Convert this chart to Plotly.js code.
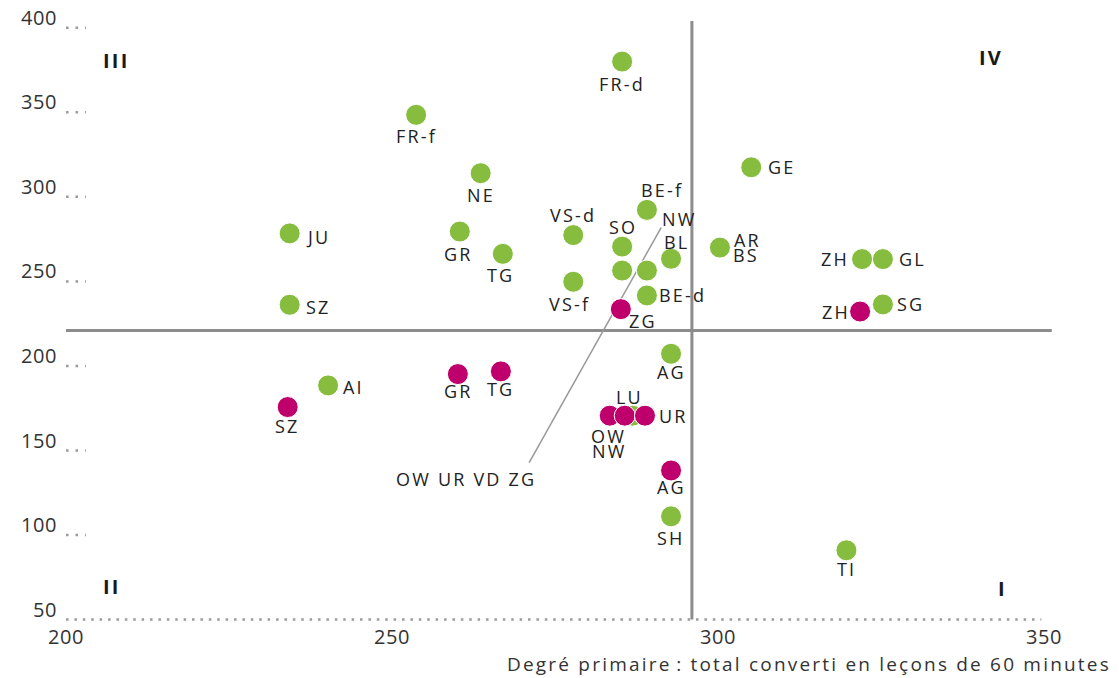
<!DOCTYPE html>
<html>
<head>
<meta charset="utf-8">
<script src="https://cdn.plot.ly/plotly-3.0.1.min.js"></script>
<style>
html,body{margin:0;padding:0;background:#fff;}
#chart{width:1119px;height:678px;}
text.annotation-text{letter-spacing:2.2px;}
.xtick text, .ytick text, text.xtick, text.ytick{letter-spacing:0.6px;}
</style>
</head>
<body>
<div id="chart"></div>
<script>
// ---- data ----
const greenNames = ['FR-d','FR-f','NE','GE','JU','GR','TG','VS-d','BE-f','SO','OW UR VD ZG','NW','BL','VS-f','BE-d','AR','BS','ZH','GL','SG','SZ','AI','AG','LU','SH','TI'];
const greenX = [285.3,253.7,263.6,305.1,234.3,260.4,267.0,277.8,289.1,285.3,285.3,289.1,292.8,277.8,289.1,300.3,300.3,322.1,325.3,325.3,234.3,240.2,292.8,286.9,292.8,319.7];
const greenY = [380.0,348.5,314.0,317.5,278.4,279.5,266.3,277.4,292.3,270.6,256.4,256.4,263.4,249.8,241.7,270.0,270.0,263.2,263.2,236.4,236.2,188.5,207.2,170.6,111.1,91.0];

const magentaNames = ['ZG','ZH','GR','TG','SZ','OW','NW','UR','AG'];
const magentaX = [285.1,321.8,260.1,266.7,234.0,283.4,285.7,288.8,292.8];
const magentaY = [233.6,232.2,195.2,196.8,175.7,170.6,170.6,170.6,138.2];

const xTicks = [200,250,300,350];
const yTicks = [50,100,150,200,250,300,350,400];
const refX = 296;   // vertical divider
const refY = 221;   // horizontal divider
const quadrants = ['I','II','III','IV'];
const xTitle = 'Degré primaire\u202F: total converti en leçons de 60 minutes';

// ---- label placement (screen px offsets: dx, dy down, anchor) ----
const greenPlace = {
  'FR-d':[0,22,'c'],'FR-f':[0,21,'c'],'NE':[0,22,'c'],'GE':[16,0,'l'],'JU':[15,4,'l'],
  'GR':[-1,22,'c'],'TG':[-2,21,'c'],'VS-d':[0,-20,'c'],'BE-f':[15,-20,'c'],'SO':[1,-20,'c'],
  'OW UR VD ZG':[-156,208,'c'],'NW':[33,-52,'c'],'BL':[5,-17,'c'],'VS-f':[-4,22,'c'],
  'BE-d':[11,0,'l'],'AR':[13,-8,'l'],'BS':[12,7,'l'],'ZH':[-12,0,'r'],'GL':[15,0,'l'],
  'SG':[13,0,'l'],'SZ':[15,2,'l'],'AI':[14,2,'l'],'AG':[0,18,'c'],'LU':[-3,-19,'c'],
  'SH':[0,22,'c'],'TI':[0,19,'c']
};
const magentaPlace = {
  'ZG':[22,12,'c'],'ZH':[-9,0,'r'],'GR':[1,17,'c'],'TG':[0,18,'c'],'SZ':[0,19,'c'],
  'OW':[-1.5,20,'c'],'NW':[-15.5,35,'c'],'UR':[13,0,'l'],'AG':[0,17,'c']
};
const quadPos = {'III':[0.063,0.935],'IV':[0.934,0.94],'II':[0.059,0.06],'I':[0.946,0.058]};

const GREEN = '#86bd3f', MAGENTA = '#bf006c', LINE = '#8c8c8c', DOT = '#9a9a9a';
const FONT = 'Open Sans, Noto Sans, sans-serif';

const traces = [
  {type:'scatter', mode:'markers', x:greenX, y:greenY, text:greenNames, hoverinfo:'text',
   marker:{color:GREEN, size:21, line:{color:'#ffffff', width:1}}, cliponaxis:false},
  {type:'scatter', mode:'markers', x:magentaX, y:magentaY, text:magentaNames, hoverinfo:'text',
   marker:{color:MAGENTA, size:21, line:{color:'#ffffff', width:1}}, cliponaxis:false}
];

const annotations = [];
function addLabels(names, xs, ys, place){
  names.forEach((n,i)=>{
    const p = place[n]; if(!p) return;
    const anchor = p[2]==='l'?'left':(p[2]==='r'?'right':'center');
    annotations.push({x:xs[i], y:ys[i], xref:'x', yref:'y', text:n, showarrow:false,
      xanchor:anchor, yanchor:'middle', xshift:p[0], yshift:-p[1], borderpad:0,
      font:{family:FONT, size:18, color:'#222'}});
  });
}
addLabels(greenNames, greenX, greenY, greenPlace);
addLabels(magentaNames, magentaX, magentaY, magentaPlace);
quadrants.forEach(q=>{
  annotations.push({x:quadPos[q][0], y:quadPos[q][1], xref:'paper', yref:'paper', text:'<b>'+q+'</b>',
    showarrow:false, xanchor:'center', yanchor:'middle', font:{family:FONT, size:20, color:'#1a1a1a'}});
});
annotations.push({x:0.4512, y:-0.068, xref:'paper', yref:'paper', text:xTitle, showarrow:false,
  xanchor:'left', yanchor:'middle', borderpad:0, font:{family:FONT, size:19, color:'#333'}});

const shapes = [];
// dividers
shapes.push({type:'line', xref:'x', yref:'y', x0:refX, x1:refX, y0:yTicks[0], y1:404, layer:'below', line:{color:LINE, width:3}});
shapes.push({type:'line', xref:'x', yref:'y', x0:xTicks[0], x1:351.2, y0:refY, y1:refY, layer:'below', line:{color:LINE, width:3}});
// dotted x axis
shapes.push({type:'line', xref:'x', yref:'y', x0:xTicks[0], x1:349.6, y0:yTicks[0], y1:yTicks[0], layer:'below', line:{color:DOT, width:2.5, dash:'2.5px,5.9px'}});
// dotted y ticks
yTicks.slice(1).forEach(v=>{
  shapes.push({type:'line', xref:'x', yref:'y', x0:xTicks[0], x1:xTicks[0]+3.05, y0:v, y1:v, layer:'below', line:{color:DOT, width:2.5, dash:'2.5px,7px'}});
});
// leader line for the grouped label
const gi = greenNames.indexOf('OW UR VD ZG');
shapes.push({type:'line', xref:'x', yref:'y', xsizemode:'pixel', ysizemode:'pixel',
  xanchor:greenX[gi], yanchor:greenY[gi], x0:-93, x1:39, y0:-192, y1:43, layer:'below',
  line:{color:'#999', width:1.5}});

const layout = {
  width:1119, height:678,
  margin:{l:53, r:62, t:21, b:55},
  paper_bgcolor:'#fff', plot_bgcolor:'#fff',
  showlegend:false,
  font:{family:FONT, color:'#333'},
  xaxis:{range:[198,352], tickvals:xTicks, ticktext:xTicks.map(String), showgrid:false, zeroline:false, showline:false,
    ticks:'', tickfont:{family:FONT, size:20, color:'#333'}, ticklabelstandoff:0},
  yaxis:{range:[48,404], tickvals:yTicks, ticktext:yTicks.map(String), showgrid:false, zeroline:false, showline:false,
    ticks:'', tickfont:{family:FONT, size:20, color:'#333'}, ticklabelstandoff:-5, ticklabelshift:-10},
  shapes:shapes, annotations:annotations
};
Plotly.newPlot('chart', traces, layout, {displayModeBar:false, staticPlot:true});
</script>
</body>
</html>
